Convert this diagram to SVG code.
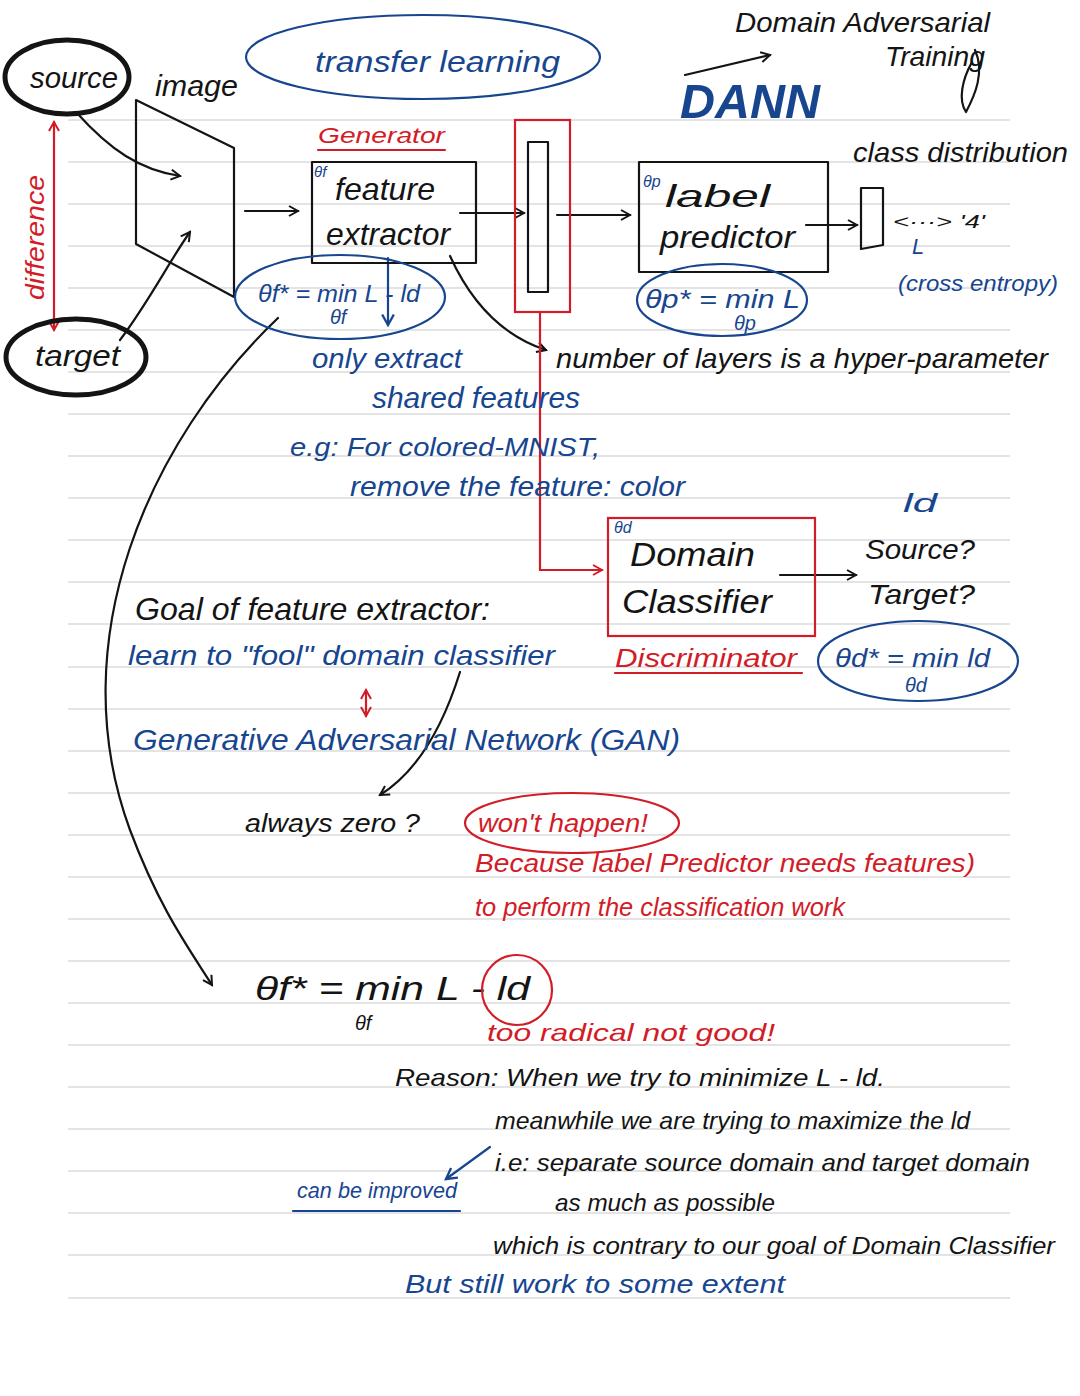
<svg xmlns="http://www.w3.org/2000/svg" width="1080" height="1396" viewBox="0 0 1080 1396">
<defs>
<style>
text{font-family:"Liberation Sans","DejaVu Sans",sans-serif;font-style:italic}
.k{fill:#141414}.b{fill:#17468f}.r{fill:#d21c28}
.lk{stroke:#141414;fill:none;stroke-width:2.2;stroke-linecap:round;stroke-linejoin:round}
.lb{stroke:#17468f;fill:none;stroke-width:2.2;stroke-linecap:round}
.lr{stroke:#d21c28;fill:none;stroke-width:2.2;stroke-linecap:round}
.rule{stroke:#dcdcdc;stroke-width:1.3}
</style>
<marker id="ak" viewBox="0 0 12 12" refX="10" refY="6" markerWidth="12" markerHeight="12" markerUnits="userSpaceOnUse" orient="auto"><path d="M1,1 L10,6 L1,11" fill="none" stroke="#141414" stroke-width="2"/></marker>
<marker id="ab" viewBox="0 0 12 12" refX="10" refY="6" markerWidth="14" markerHeight="14" markerUnits="userSpaceOnUse" orient="auto"><path d="M1,1 L10,6 L1,11" fill="none" stroke="#17468f" stroke-width="2"/></marker>
<marker id="ar" viewBox="0 0 12 12" refX="10" refY="6" markerWidth="12" markerHeight="12" markerUnits="userSpaceOnUse" orient="auto-start-reverse"><path d="M1,1 L10,6 L1,11" fill="none" stroke="#d21c28" stroke-width="2"/></marker>
</defs>
<rect width="1080" height="1396" fill="#ffffff"/>

<!-- ruled paper -->
<g id="paper">
<path class="rule" d="M68 120H1010M68 162H1010M68 204H1010M68 246H1010M68 288H1010M68 330H1010M68 372H1010M68 414H1010M68 456H1010M68 498H1010M68 540H1010M68 582H1010M68 624H1010M68 667H1010M68 709H1010M68 751H1010M68 793H1010M68 835H1010M68 877H1010M68 919H1010M68 961H1010M68 1003H1010M68 1045H1010M68 1087H1010M68 1129H1010M68 1171H1010M68 1213H1010M68 1255H1010M68 1298H1010"/>
</g>

<!-- connectors -->
<g id="connectors">
<path class="lk" d="M76 112 C110 150 140 170 180 176" marker-end="url(#ak)"/>
<path class="lk" d="M120 340 C150 300 170 260 190 232" marker-end="url(#ak)"/>
<path class="lk" d="M245 211 H298" marker-end="url(#ak)"/>
<path class="lk" d="M460 213 H524" marker-end="url(#ak)"/>
<path class="lk" d="M557 215 H630" marker-end="url(#ak)"/>
<path class="lk" d="M806 225 H857" marker-end="url(#ak)"/>
<path class="lk" d="M450 256 C470 300 500 335 546 350" marker-end="url(#ak)"/>
<path class="lk" d="M780 575 H856" marker-end="url(#ak)"/>
<path class="lr" d="M540 312 V570 H602" marker-end="url(#ar)"/>
<path class="lr" d="M54 122 V330" marker-start="url(#ar)" marker-end="url(#ar)"/>
<path class="lk" d="M278 318 C150 440 60 640 130 830 C160 910 190 950 212 985" marker-end="url(#ak)"/>
<path class="lk" d="M460 672 C445 720 420 770 380 795" marker-end="url(#ak)"/>
<path class="lb" d="M388 258 V325" marker-end="url(#ab)"/>
<path class="lr" d="M366 690 V716" marker-start="url(#ar)" marker-end="url(#ar)"/>
<path class="lk" d="M685 75 L770 55" marker-end="url(#ak)"/>
<path class="lk" d="M975 50 C985 72 975 95 966 112 C958 100 962 80 972 62"/>
<path class="lb" d="M490 1147 L446 1179" marker-end="url(#ab)"/>
</g>

<!-- header notes -->
<g id="title">
<ellipse cx="423" cy="57" rx="177" ry="42" class="lb"/>
<text x="315" y="72" font-size="30" class="b" textLength="245" lengthAdjust="spacingAndGlyphs">transfer learning</text>
<text x="735" y="32" font-size="28" class="k" textLength="255" lengthAdjust="spacingAndGlyphs">Domain Adversarial</text>
<text x="885" y="66" font-size="28" class="k" textLength="100" lengthAdjust="spacingAndGlyphs">Training</text>
<text x="680" y="118" font-size="48" font-weight="bold" class="b" textLength="140" lengthAdjust="spacingAndGlyphs">DANN</text>
</g>

<g id="source">
<ellipse cx="67" cy="77" rx="62" ry="37" fill="none" stroke="#141414" stroke-width="5"/>
<text x="30" y="88" font-size="30" class="k" textLength="88" lengthAdjust="spacingAndGlyphs">source</text>
</g>
<g id="target">
<ellipse cx="76" cy="357" rx="70" ry="38" fill="none" stroke="#141414" stroke-width="5"/>
<text x="35" y="366" font-size="30" class="k" textLength="85" lengthAdjust="spacingAndGlyphs">target</text>
</g>
<g id="difference">
<text transform="translate(44 300) rotate(-90)" font-size="26" class="r" textLength="125" lengthAdjust="spacingAndGlyphs">difference</text>
</g>

<g id="image">
<path class="lk" d="M136 100 L234 148 V297 L136 244 Z"/>
<text x="155" y="96" font-size="30" class="k" textLength="83" lengthAdjust="spacingAndGlyphs">image</text>
</g>

<g id="feature-extractor">
<text x="318" y="143" font-size="22" class="r" textLength="127" lengthAdjust="spacingAndGlyphs">Generator</text>
<path class="lr" d="M318 150 H445"/>
<rect x="312" y="162" width="164" height="101" class="lk"/>
<text x="314" y="177" font-size="15" class="b">θf</text>
<text x="335" y="200" font-size="32" class="k" textLength="100" lengthAdjust="spacingAndGlyphs">feature</text>
<text x="326" y="245" font-size="32" class="k" textLength="124" lengthAdjust="spacingAndGlyphs">extractor</text>
<ellipse cx="340" cy="297" rx="105" ry="42" class="lb"/>
<text x="258" y="302" font-size="24" class="b" textLength="162" lengthAdjust="spacingAndGlyphs">θf* = min L - ld</text>
<text x="330" y="324" font-size="20" class="b">θf</text>
</g>

<g id="features">
<rect x="515" y="120" width="55" height="192" class="lr"/>
<rect x="528" y="142" width="20" height="150" class="lk"/>
</g>

<g id="label-predictor">
<rect x="639" y="162" width="189" height="110" class="lk"/>
<text x="643" y="187" font-size="16" class="b">θp</text>
<text x="665" y="207" font-size="32" class="k" textLength="105" lengthAdjust="spacingAndGlyphs">label</text>
<text x="660" y="248" font-size="32" class="k" textLength="135" lengthAdjust="spacingAndGlyphs">predictor</text>
<ellipse cx="722" cy="300" rx="85" ry="36" class="lb"/>
<text x="645" y="308" font-size="26" class="b" textLength="155" lengthAdjust="spacingAndGlyphs">θp* = min L</text>
<text x="734" y="330" font-size="20" class="b">θp</text>
</g>

<g id="class-distribution">
<text x="853" y="162" font-size="28" class="k" textLength="215" lengthAdjust="spacingAndGlyphs">class distribution</text>
<path class="lk" d="M861 188 H883 V245 L861 249 Z"/>
<text x="893" y="228" font-size="18" class="k" textLength="92" lengthAdjust="spacingAndGlyphs">&lt;···&gt; '4'</text>
<text x="912" y="254" font-size="22" class="b">L</text>
<text x="898" y="291" font-size="22" class="b" textLength="160" lengthAdjust="spacingAndGlyphs">(cross entropy)</text>
</g>

<g id="notes-extractor">
<text x="312" y="368" font-size="28" class="b" textLength="150" lengthAdjust="spacingAndGlyphs">only extract</text>
<text x="372" y="408" font-size="30" class="b" textLength="208" lengthAdjust="spacingAndGlyphs">shared features</text>
<text x="290" y="456" font-size="26" class="b" textLength="310" lengthAdjust="spacingAndGlyphs">e.g: For colored-MNIST,</text>
<text x="350" y="496" font-size="28" class="b" textLength="335" lengthAdjust="spacingAndGlyphs">remove the feature: color</text>
<text x="556" y="368" font-size="28" class="k" textLength="492" lengthAdjust="spacingAndGlyphs">number of layers is a hyper-parameter</text>
</g>

<g id="domain-classifier">
<rect x="608" y="518" width="207" height="118" class="lr"/>
<text x="614" y="533" font-size="16" class="b">θd</text>
<text x="630" y="566" font-size="34" class="k" textLength="125" lengthAdjust="spacingAndGlyphs">Domain</text>
<text x="622" y="613" font-size="34" class="k" textLength="150" lengthAdjust="spacingAndGlyphs">Classifier</text>
<text x="615" y="667" font-size="26" class="r" textLength="182" lengthAdjust="spacingAndGlyphs">Discriminator</text>
<path class="lr" d="M615 673 H802"/>
</g>

<g id="domain-output">
<text x="903" y="512" font-size="26" class="b" textLength="34" lengthAdjust="spacingAndGlyphs">ld</text>
<text x="865" y="559" font-size="28" class="k" textLength="110" lengthAdjust="spacingAndGlyphs">Source?</text>
<text x="868" y="604" font-size="28" class="k" textLength="107" lengthAdjust="spacingAndGlyphs">Target?</text>
<ellipse cx="918" cy="661" rx="100" ry="40" class="lb"/>
<text x="835" y="667" font-size="26" class="b" textLength="155" lengthAdjust="spacingAndGlyphs">θd* = min ld</text>
<text x="905" y="692" font-size="20" class="b">θd</text>
</g>

<g id="goal">
<text x="135" y="620" font-size="32" class="k" textLength="355" lengthAdjust="spacingAndGlyphs">Goal of feature extractor:</text>
<text x="128" y="665" font-size="28" class="b" textLength="427" lengthAdjust="spacingAndGlyphs">learn to "fool" domain classifier</text>
<text x="133" y="750" font-size="30" class="b" textLength="547" lengthAdjust="spacingAndGlyphs">Generative Adversarial Network (GAN)</text>
<text x="245" y="832" font-size="26" class="k" textLength="175" lengthAdjust="spacingAndGlyphs">always zero ?</text>
</g>

<g id="wont-happen">
<ellipse cx="572" cy="823" rx="107" ry="30" class="lr"/>
<text x="478" y="832" font-size="26" class="r" textLength="170" lengthAdjust="spacingAndGlyphs">won't happen!</text>
<text x="475" y="872" font-size="26" class="r" textLength="500" lengthAdjust="spacingAndGlyphs">Because label Predictor needs features)</text>
<text x="475" y="916" font-size="26" class="r" textLength="370" lengthAdjust="spacingAndGlyphs">to perform the classification work</text>
</g>

<g id="objective">
<text x="255" y="1000" font-size="34" class="k" textLength="275" lengthAdjust="spacingAndGlyphs">θf* = min L - ld</text>
<text x="355" y="1030" font-size="20" class="k">θf</text>
<circle cx="517" cy="990" r="35" class="lr"/>
<text x="487" y="1041" font-size="24" class="r" textLength="288" lengthAdjust="spacingAndGlyphs">too radical   not good!</text>
</g>

<g id="reason">
<text x="395" y="1086" font-size="24" class="k" textLength="490" lengthAdjust="spacingAndGlyphs">Reason: When we try to minimize L - ld.</text>
<text x="495" y="1129" font-size="24" class="k" textLength="475" lengthAdjust="spacingAndGlyphs">meanwhile we are trying to maximize the ld</text>
<text x="495" y="1171" font-size="24" class="k" textLength="535" lengthAdjust="spacingAndGlyphs">i.e: separate source domain and target domain</text>
<text x="555" y="1211" font-size="24" class="k" textLength="220" lengthAdjust="spacingAndGlyphs">as much as possible</text>
<text x="493" y="1254" font-size="24" class="k" textLength="562" lengthAdjust="spacingAndGlyphs">which is contrary to our goal of Domain Classifier</text>
<text x="405" y="1293" font-size="26" class="b" textLength="380" lengthAdjust="spacingAndGlyphs">But still work to some extent</text>
</g>

<g id="improved">
<text x="297" y="1198" font-size="22" class="b" textLength="160" lengthAdjust="spacingAndGlyphs">can be improved</text>
<path class="lb" d="M293 1211 H460"/>
</g>
</svg>
